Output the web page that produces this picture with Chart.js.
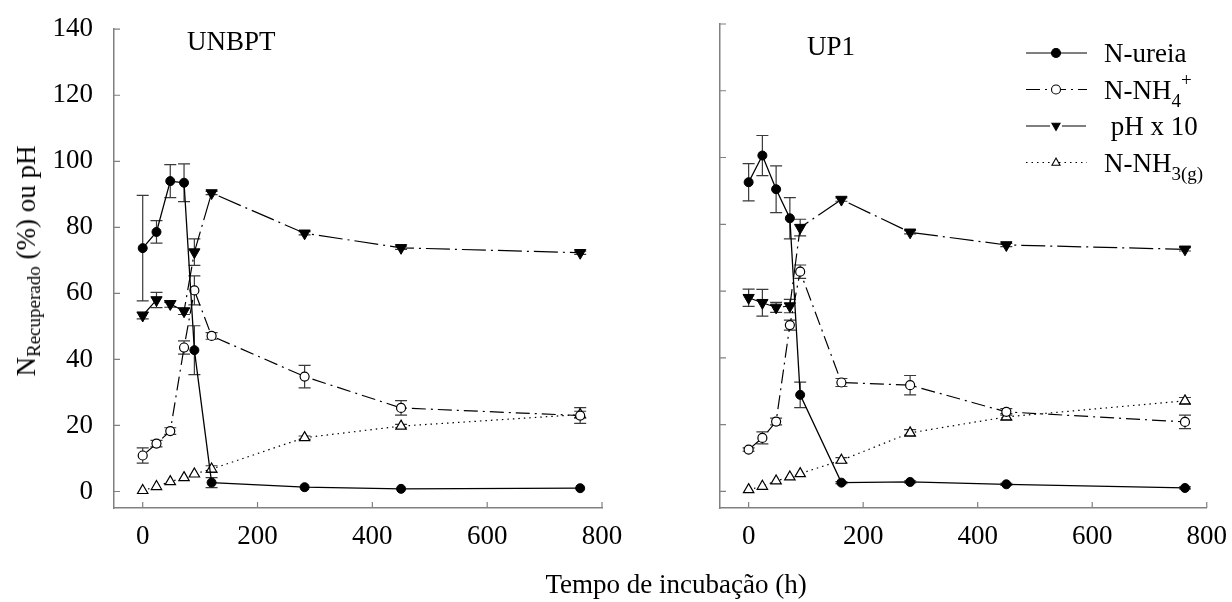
<!DOCTYPE html>
<html>
<head>
<meta charset="utf-8">
<title>N recuperado</title>
<script src="https://cdn.jsdelivr.net/npm/chart.js"></script>
<style>
  body { margin: 0; background: #fff; width: 1232px; height: 602px; position: relative; overflow: hidden; font-family: "Liberation Serif", serif; }
  #left { position: absolute; left: 0; top: 0; }
  #right { position: absolute; left: 640px; top: 0; }
  .x_title { position: absolute; left: 676px; top: 571px; transform: translateX(-50%); font-size: 27px; line-height: 1; white-space: nowrap; }
  .y_title { position: absolute; left: 28px; top: 261px; transform: translate(-50%, -50%) rotate(-90deg); font-size: 27px; line-height: 1; white-space: nowrap; }
  .y_title sub { font-size: 19px; vertical-align: -5px; }
</style>
</head>
<body>
<canvas id="left" width="640" height="602"></canvas>
<canvas id="right" width="592" height="602"></canvas>
<div class="y_title">N<sub>Recuperado</sub> (%) ou pH</div>
<div class="x_title">Tempo de incubação (h)</div>
<script>
// tempos de incubação (h)
const horas_unbpt = [0, 24, 48, 72, 90, 120, 282, 450, 762]
const horas_up1 = [0, 24, 48, 72, 90, 162, 282, 450, 762]

// UNBPT
const ureia_unbpt = [73.7, 78.6, 94.0, 93.5, 42.8, 2.7, 1.3, 0.8, 1.0]
const ureia_unbpt_err = [16, 3.4, 5, 5.7, 7.4, 1.5, 0, 0, 0]
const nh4_unbpt = [10.9, 14.5, 18.3, 43.6, 60.9, 47.1, 34.8, 25.3, 23.0]
const nh4_unbpt_err = [2.3, 1, 1, 2, 4.4, 1, 3.4, 2.2, 2.4]
const ph_unbpt = [53.3, 58.0, 56.8, 54.6, 72.5, 90.4, 78.2, 73.8, 72.3]
const ph_unbpt_err = [1, 2.3, 1, 1, 4, 0.5, 0.5, 0.5, 0.5]
const nh3_unbpt = [0.3, 1.5, 3.0, 4.2, 5.3, 6.8, 16.3, 19.8, 23.3]
const nh3_unbpt_err = [0, 0, 0, 0, 0, 1, 0.5, 0.5, 1]

// UP1
const ureia_up1 = [92.6, 100.6, 90.5, 81.8, 28.9, 2.6, 2.8, 2.1, 1.0]
const ureia_up1_err = [5.6, 6, 7, 6.2, 3.8, 0.3, 0.3, 0.3, 0.3]
const nh4_up1 = [12.5, 16.0, 20.9, 49.8, 65.8, 32.6, 31.8, 23.8, 20.8]
const nh4_up1_err = [0.5, 1.8, 1, 1.5, 2, 1.2, 2.9, 1, 2]
const ph_up1 = [58.0, 56.5, 55.1, 55.5, 79.0, 87.4, 77.6, 73.8, 72.5]
const ph_up1_err = [2.6, 4, 1.5, 2, 2.5, 0.5, 0.5, 0.5, 0.5]
const nh3_up1 = [0.5, 1.5, 3.1, 4.3, 5.3, 9.3, 17.5, 22.3, 27.1]
const nh3_up1_err = [0, 0, 0, 0, 0, 0.8, 1, 1, 1]

const x_ticks = [0, 200, 400, 600, 800]
const y_ticks = [0, 20, 40, 60, 80, 100, 120, 140]

const legend_main = ['N-ureia', 'N-NH', ' pH x 10', 'N-NH']
const legend_sub = ['', '4', '', '3(g)']
const legend_sup = ['', '+', '', '']

Chart.defaults.font.family = '"Liberation Serif", serif'
Chart.defaults.color = '#000'

const axis_grey = '#808080'
const font_size = 27

function points(xs, ys) {
  return xs.map((x, i) => ({ x: x, y: ys[i] }))
}

function makeSets(horas, ureia, ureia_err, nh4, nh4_err, ph, ph_err, nh3, nh3_err) {
  return [
    { label: 'N-ureia', data: points(horas, ureia), err: ureia_err,
      borderColor: '#000', borderWidth: 1.3, pointStyle: 'circle', pointRadius: 4.5,
      pointBackgroundColor: '#000', pointBorderColor: '#000', pointBorderWidth: 1 },
    { label: 'N-NH4+', data: points(horas, nh4), err: nh4_err,
      borderColor: '#000', borderWidth: 1.2, borderDash: [14, 5, 2, 5], pointStyle: 'circle', pointRadius: 4.5,
      pointBackgroundColor: '#fff', pointBorderColor: '#000', pointBorderWidth: 1.2 },
    { label: 'pH x 10', data: points(horas, ph), err: ph_err,
      borderColor: '#000', borderWidth: 1.2, borderDash: [24, 5, 2, 5], pointStyle: 'triangle', pointRotation: 180, pointRadius: 6.5,
      pointBackgroundColor: '#000', pointBorderColor: '#000', pointBorderWidth: 1 },
    { label: 'N-NH3(g)', data: points(horas, nh3), err: nh3_err,
      borderColor: '#000', borderWidth: 1.2, borderDash: [1.5, 4], pointStyle: 'triangle', pointRadius: 6,
      pointBackgroundColor: '#fff', pointBorderColor: '#000', pointBorderWidth: 1.2 }
  ]
}

// barras de erro desenhadas por baixo dos simbolos
const errorBars = {
  id: 'errorBars',
  beforeDatasetsDraw(chart) {
    const ctx = chart.ctx
    const y = chart.scales.y
    chart.data.datasets.forEach((ds, i) => {
      const meta = chart.getDatasetMeta(i)
      meta.data.forEach((pt, j) => {
        const e = ds.err[j]
        if (!e) return
        const v = ds.data[j].y
        const top = y.getPixelForValue(v + e)
        const bot = y.getPixelForValue(v - e)
        ctx.save()
        ctx.strokeStyle = '#3a3a3a'
        ctx.lineWidth = 1.2
        ctx.beginPath()
        ctx.moveTo(pt.x, top); ctx.lineTo(pt.x, bot)
        ctx.moveTo(pt.x - 6, top); ctx.lineTo(pt.x + 6, top)
        ctx.moveTo(pt.x - 6, bot); ctx.lineTo(pt.x + 6, bot)
        ctx.stroke()
        ctx.restore()
      })
    })
  }
}

// marcas dos eixos para dentro
const innerTicks = {
  id: 'innerTicks',
  afterDraw(chart) {
    const ctx = chart.ctx
    const a = chart.chartArea
    const x = chart.scales.x
    const y = chart.scales.y
    ctx.save()
    ctx.strokeStyle = axis_grey
    ctx.lineWidth = 1.2
    ctx.beginPath()
    x_ticks.forEach(v => {
      const px = x.getPixelForValue(v)
      ctx.moveTo(px, a.bottom); ctx.lineTo(px, a.bottom - 6)
    })
    y_ticks.forEach(v => {
      const py = y.getPixelForValue(v)
      ctx.moveTo(a.left, py); ctx.lineTo(a.left + 6, py)
    })
    ctx.stroke()
    ctx.restore()
  }
}

function drawMarker(ctx, ds, x, y, r) {
  ctx.save()
  ctx.fillStyle = ds.pointBackgroundColor
  ctx.strokeStyle = ds.pointBorderColor
  ctx.lineWidth = 1.1
  ctx.beginPath()
  if (ds.pointStyle == 'circle') {
    ctx.arc(x, y, r, 0, Math.PI * 2)
  } else {
    const s = ds.pointRotation == 180 ? -1 : 1
    ctx.moveTo(x, y - s * r)
    ctx.lineTo(x + r * 0.9, y + s * r * 0.6)
    ctx.lineTo(x - r * 0.9, y + s * r * 0.6)
    ctx.closePath()
  }
  ctx.fill()
  ctx.stroke()
  ctx.restore()
}

const panelText = {
  id: 'panelText',
  afterDraw(chart, args, opts) {
    const ctx = chart.ctx
    ctx.save()
    ctx.fillStyle = '#000'
    ctx.font = font_size + 'px "Liberation Serif"'
    ctx.fillText(opts.title, opts.titleX, opts.titleY)
    if (opts.legend) {
      chart.data.datasets.forEach((ds, i) => {
        const ly = 53 + i * 36.5
        ctx.save()
        ctx.strokeStyle = '#000'
        ctx.lineWidth = 1.2
        ctx.setLineDash(ds.borderDash || [])
        ctx.beginPath()
        ctx.moveTo(386, ly); ctx.lineTo(447, ly)
        ctx.stroke()
        ctx.restore()
        drawMarker(ctx, ds, 416, ly, 4.5)
        let tx = 464
        const base = ly + 9
        ctx.font = font_size + 'px "Liberation Serif"'
        ctx.fillText(legend_main[i], tx, base)
        tx += ctx.measureText(legend_main[i]).width
        ctx.font = '19px "Liberation Serif"'
        if (legend_sub[i]) ctx.fillText(legend_sub[i], tx, base + 8)
        if (legend_sup[i]) ctx.fillText(legend_sup[i], tx + ctx.measureText(legend_sub[i]).width, base - 13)
      })
    }
    ctx.restore()
  }
}

function makeOptions(yWidth, padRight, showY, title, titleX, titleY, legend) {
  return {
    responsive: false,
    animation: false,
    layout: { padding: { left: 0, right: padRight, top: 24, bottom: 0 } },
    plugins: {
      legend: { display: false },
      tooltip: { enabled: false },
      panelText: { title: title, titleX: titleX, titleY: titleY, legend: legend }
    },
    scales: {
      x: {
        type: 'linear', min: -50, max: 800,
        afterBuildTicks: s => { s.ticks = x_ticks.map(v => ({ value: v })) },
        afterFit: s => { s.height = 94 },
        grid: { display: false },
        border: { color: axis_grey, width: 1.5 },
        ticks: { font: { size: font_size }, padding: 5, maxRotation: 0, autoSkip: false }
      },
      y: {
        type: 'linear', min: -5, max: 140,
        afterBuildTicks: s => { s.ticks = y_ticks.map(v => ({ value: v })) },
        afterFit: s => { s.width = yWidth },
        grid: { display: false },
        border: { color: axis_grey, width: 1.5 },
        ticks: { display: showY, font: { size: font_size }, padding: 13 }
      }
    }
  }
}

new Chart(document.getElementById('left'), {
  type: 'line',
  data: { datasets: makeSets(horas_unbpt, ureia_unbpt, ureia_unbpt_err, nh4_unbpt, nh4_unbpt_err, ph_unbpt, ph_unbpt_err, nh3_unbpt, nh3_unbpt_err) },
  options: makeOptions(114, 38, true, 'UNBPT', 187, 50, false),
  plugins: [errorBars, innerTicks, panelText]
})

new Chart(document.getElementById('right'), {
  type: 'line',
  data: { datasets: makeSets(horas_up1, ureia_up1, ureia_up1_err, nh4_up1, nh4_up1_err, ph_up1, ph_up1_err, nh3_up1, nh3_up1_err) },
  options: makeOptions(80, 24, false, 'UP1', 167, 55, true),
  plugins: [errorBars, innerTicks, panelText]
})
</script>
</body>
</html>
